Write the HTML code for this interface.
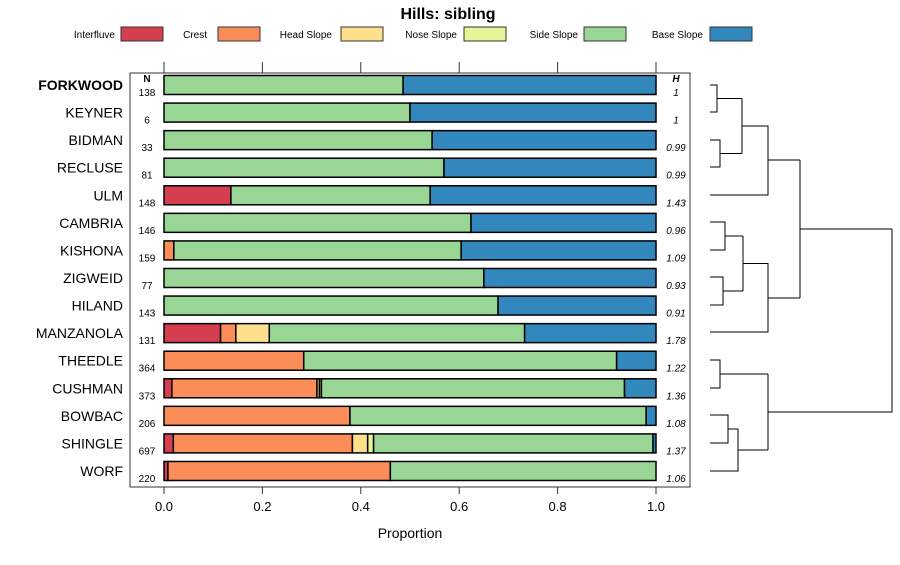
<!DOCTYPE html>
<html><head><meta charset="utf-8"><style>
body{margin:0;background:#fff;}
svg{font-family:"Liberation Sans",sans-serif;}
</style></head><body>
<svg id="c" width="900" height="560">
<text x="448" y="19" text-anchor="middle" font-size="16" font-weight="bold">Hills: sibling</text>
<g id="legend"></g>
<rect x="130" y="73" width="560" height="414" fill="none" stroke="#333"/>
<text x="147" y="82" text-anchor="middle" font-size="10" font-weight="bold">N</text>
<text x="676" y="82" text-anchor="middle" font-size="10" font-weight="bold" font-style="italic">H</text>
<g id="bars"></g>
<g id="axes"></g>
<text x="410" y="538" text-anchor="middle" font-size="14">Proportion</text>
<g fill="none" stroke="#000" stroke-width="1">
<path d="M710 85H717V112H710M717 98.5H742"/>
<path d="M710 140H720V167H710M720 153.5H742"/>
<path d="M742 98.5V153.5M742 126H768V195H710M768 160H800"/>
<path d="M710 222H725V250H710M725 236H743"/>
<path d="M710 277H723V305H710M723 291H743"/>
<path d="M743 236V291M743 263.5H768V332H710M768 298H800"/>
<path d="M800 160V298M800 229H892"/>
<path d="M710 360H720V388H710M720 374H768"/>
<path d="M710 415H728V443H710M728 429H738V471H710M738 450H768"/>
<path d="M768 374V450M768 412H892V229"/>
</g>
</svg>
<script>
const classes=["Interfluve","Crest","Head Slope","Nose Slope","Side Slope","Base Slope"];
const colors=["#D53E4F","#FC8D59","#FEE08B","#E6F598","#99D594","#3288BD"];
const names=["FORKWOOD","KEYNER","BIDMAN","RECLUSE","ULM","CAMBRIA","KISHONA","ZIGWEID","HILAND","MANZANOLA","THEEDLE","CUSHMAN","BOWBAC","SHINGLE","WORF"];
const nCounts=[138,6,33,81,148,146,159,77,143,131,364,373,206,697,220];
const hVals=["1","1","0.99","0.99","1.43","0.96","1.09","0.93","0.91","1.78","1.22","1.36","1.08","1.37","1.06"];
const interfluve=[0,0,0,0,0.136,0,0,0,0,0.115,0,0.016,0,0.019,0.008];
const crest=[0,0,0,0,0,0,0.02,0,0,0.031,0.284,0.295,0.378,0.364,0.452];
const headSlope=[0,0,0,0,0,0,0,0,0,0.068,0,0.005,0,0.031,0];
const noseSlope=[0,0,0,0,0,0,0,0,0,0,0,0.004,0,0.012,0];
const sideSlope=[0.486,0.5,0.545,0.569,0.405,0.624,0.584,0.65,0.679,0.519,0.636,0.616,0.602,0.568,0.54];
const baseSlope=[0.514,0.5,0.455,0.431,0.459,0.376,0.396,0.35,0.321,0.267,0.08,0.064,0.02,0.006,0];
const xTicks=[0,0.2,0.4,0.6,0.8,1.0];
const xTickLabels=["0.0","0.2","0.4","0.6","0.8","1.0"];
const NS="http://www.w3.org/2000/svg";
const X=v=>164+v*492;
const Y=i=>85+i*27.57;
function mk(p,t,a){const e=document.createElementNS(NS,t);for(const k in a)e.setAttribute(k,a[k]);p.appendChild(e);return e;}
const svg=document.getElementById('c');
// legend
const lg=document.getElementById('legend');
const lx=[[115,121],[207,218],[332,341],[457,464],[578,584],[703,710]];
classes.forEach((c,i)=>{
 const t=mk(lg,'text',{x:lx[i][0],y:38,'text-anchor':'end','font-size':10});t.textContent=c;
 
 
 const r=mk(lg,'rect',{x:lx[i][1],y:27,width:42,height:14,fill:colors[i],stroke:'#333'});
 
 
});
const series=[interfluve,crest,headSlope,noseSlope,sideSlope,baseSlope];
const bg=document.getElementById('bars');
names.forEach((n,i)=>{
 const y=Y(i);
 const lab=mk(bg,'text',{x:123,y:y+5,'text-anchor':'end','font-size':14,'font-weight':i==0?'bold':'normal'});lab.textContent=n;
 
 
 const nt=mk(bg,'text',{x:147,y:y+11,'text-anchor':'middle','font-size':10});nt.textContent=nCounts[i];
 
 
 const ht=mk(bg,'text',{x:676,y:y+11,'text-anchor':'middle','font-size':10,'font-style':'italic'});ht.textContent=hVals[i];
 
 
 let cum=0;
 series.forEach((s,k)=>{
  const v=s[i];if(v<=0)return;
  const r=mk(bg,'rect',{x:X(cum),y:y-9.5,width:X(cum+v)-X(cum),height:19,fill:colors[k],stroke:'#000','stroke-width':1.5});
  
  
  cum+=v;
 });
});
const ax=document.getElementById('axes');
xTicks.forEach((t,i)=>{
 mk(ax,'line',{x1:X(t),x2:X(t),y1:62,y2:73,stroke:'#333'});
 mk(ax,'line',{x1:X(t),x2:X(t),y1:487,y2:494,stroke:'#333'});
 const tl=mk(ax,'text',{x:X(t),y:511,'text-anchor':'middle','font-size':13});tl.textContent=xTickLabels[i];
 
 
});
</script>
</body></html>
